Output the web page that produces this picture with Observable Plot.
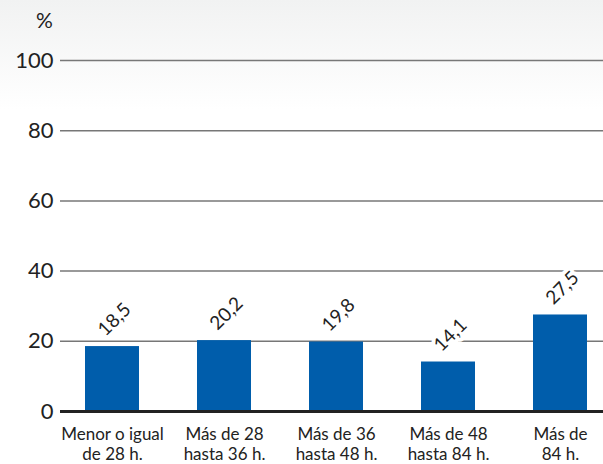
<!DOCTYPE html>
<html><head><meta charset="utf-8">
<script src="https://cdn.jsdelivr.net/npm/d3@7"></script>
<script src="https://cdn.jsdelivr.net/npm/@observablehq/plot@0.6"></script>
<style>
html,body{margin:0;padding:0;background:#fff;}
#chart svg{background:linear-gradient(#f1f2f2 0px,#ffffff 110px);}
</style>
</head><body><div id="chart"></div>
<script>
const categories = ["Menor o igual\nde 28 h.", "Más de 28\nhasta 36 h.", "Más de 36\nhasta 48 h.", "Más de 48\nhasta 84 h.", "Más de\n84 h."];
const values = [18.5, 20.2, 19.8, 14.1, 27.5];
const labels = ["18,5", "20,2", "19,8", "14,1", "27,5"];
const yTicks = [0, 20, 40, 60, 80, 100];
const unitLabel = "%";

const data = categories.map((c, i) => ({cat: c, v: values[i], lab: labels[i]}));

const plot = Plot.plot({
  width: 603,
  height: 464,
  marginLeft: 60,
  marginRight: 0,
  marginTop: 60,
  marginBottom: 53,
  style: {fontFamily: "Lato, sans-serif", color: "#222", overflow: "visible"},
  x: {domain: categories, paddingInner: 0.52, paddingOuter: 0.173, align: 0.615, label: null},
  y: {domain: [0, 100], label: null},
  marks: [
    Plot.ruleY(yTicks.filter(d => d > 0), {stroke: "#777", strokeWidth: 1.5}),
    Plot.barY(data, {x: "cat", y: "v", fill: "#005DAB"}),
    Plot.ruleY([0], {stroke: "#222", strokeWidth: 3}),
    Plot.text(data, {x: "cat", y: "v", text: "lab", dy: -27, dx: 2, rotate: -45, fontSize: 19, fill: "#222", stroke: "white", strokeWidth: 8, paintOrder: "stroke"}),
    Plot.axisY(yTicks, {tickSize: 0, tickPadding: 7, fontSize: 22, label: null}),
    Plot.axisX({tickSize: 0, tickPadding: 15, fontSize: 17, lineHeight: 1.15, label: null}),
    Plot.text([unitLabel], {frameAnchor: "top-left", textAnchor: "middle", lineAnchor: "middle", dx: -16, dy: -39, fontSize: 21, fill: "#222"})
  ]
});
document.getElementById("chart").appendChild(plot);
</script>
</body></html>
